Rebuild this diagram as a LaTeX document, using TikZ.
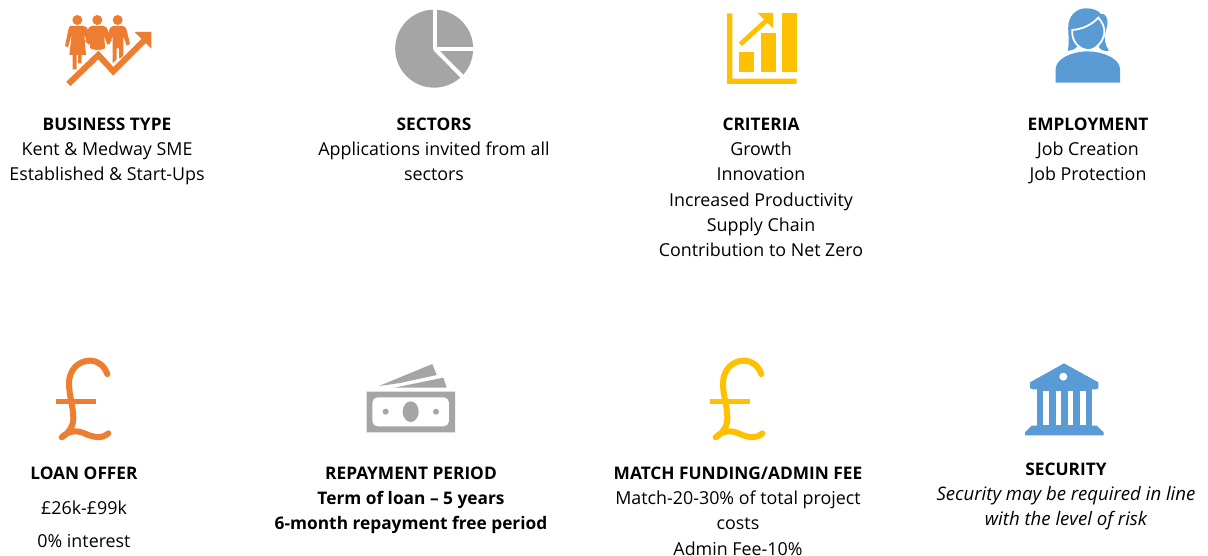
\documentclass[tikz,border=0pt]{standalone}
\usepackage{fontspec}
\setmainfont{Open Sans}
\definecolor{iorange}{HTML}{ED7D31}
\definecolor{igrey}{HTML}{A5A5A5}
\definecolor{iyellow}{HTML}{FFC000}
\definecolor{iblue}{HTML}{5B9BD5}
\newcommand{\hd}[1]{{\fontsize{17.3}{25.2}\selectfont\bfseries #1}}
\newcommand{\emline}[1]{{\fontsize{18.6}{25.4}\selectfont\itshape #1}}
\tikzset{
  blocktext/.style={inner sep=0pt,outer sep=0pt,anchor=north,align=center,text=black,
    font=\fontsize{17.85}{25.2}\selectfont},
  zoomed/.style={scale=1/3},
  poundstroke/.style={line width=6pt,line cap=round,line join=round}
}
\newcommand{\poundicon}[2]{%
  \begin{scope}[shift={(#1,350)},zoomed]
    \draw[#2,poundstroke] (187,72) .. controls (178,48) and (160,32) .. (135,32)
      .. controls (98,32) and (72,62) .. (72,100)
      .. controls (72,135) and (85,170) .. (85,205)
      .. controls (85,230) and (70,250) .. (50,262)
      .. controls (70,242) and (95,240) .. (118,250)
      .. controls (145,262) and (170,268) .. (190,250);
    \draw[#2,line width=5.6pt] (32,155) -- (152,155);
  \end{scope}}
\begin{document}
\begin{tikzpicture}[x=1pt,y=-1pt]
\useasboundingbox (0,0) rectangle (1208,556);
\fill[white] (0,0) rectangle (1208,556);

% people and rising arrow
\begin{scope}[shift={(50,0)},zoomed,iorange]
  \fill (82,60) circle (15);
  \fill (142,60) circle (15);
  \fill (203,60) circle (15);
  % left woman
  \fill (62,78) -- (100,78) .. controls (108,78) and (112,83) .. (115,92)
     -- (126,128) -- (115,134) -- (103,104) -- (108,165) -- (95,165) -- (95,190) -- (84,190) -- (84,165)
     -- (80,165) -- (80,208) -- (68,208) -- (68,165) -- (58,165) -- (65,104) -- (54,142) -- (45,138)
     -- (55,90) .. controls (56,83) and (58,78) .. (62,78) -- cycle;
  % middle woman
  \fill (125,78) -- (160,78) .. controls (167,78) and (172,83) .. (174,92)
     -- (185,122) -- (172,134) -- (163,108) -- (165,145) -- (145,152) -- (120,145) -- (122,108) -- (116,132)
     -- (106,125) -- (113,90) .. controls (116,83) and (120,78) .. (125,78) -- cycle;
  % right man
  \fill (190,78) -- (218,78) .. controls (225,78) and (228,83) .. (230,90)
     -- (240,132) -- (230,137) -- (220,108) -- (220,175) -- (207,175) -- (207,145) -- (200,145)
     -- (200,178) -- (188,190) -- (188,108) -- (178,134) -- (170,128)
     -- (178,90) .. controls (180,83) and (184,78) .. (190,78) -- cycle;
  % white halo and arrow
  \draw[white,line width=8pt,line join=miter] (55,252) -- (145,165) -- (190,214) -- (280,125);
  \draw[iorange,line width=6pt,line join=miter] (55,252) -- (145,165) -- (190,214) -- (288,116);
  \fill (254,96) -- (304,96) -- (304,146) -- cycle;
\end{scope}

% pie
\begin{scope}[shift={(385,0)},zoomed]
  \fill[igrey] (147.5,146) circle (117);
  \draw[white,line width=4pt] (149,146) -- (149,20);
  \draw[white,line width=4pt] (149,146) -- (275,146);
  \draw[white,line width=4pt] (149,146) -- (245,243);
\end{scope}

% chart
\begin{scope}[shift={(715,0)},zoomed,iyellow]
  \fill (36,40) -- (52,40) -- (52,236) -- (245,236) -- (245,252) -- (36,252) -- cycle;
  \fill (72,155) rectangle (118,215);
  \fill (137,100) rectangle (183,215);
  \fill (200,40) rectangle (245,215);
  \draw[iyellow,line width=4.8pt] (76,133) -- (158,58);
  \fill (128,39) -- (174,39) -- (174,85) -- cycle;
\end{scope}

% woman
\begin{scope}[shift={(1045,0)},zoomed,iblue]
  \fill (68,152) .. controls (75,125) and (68,100) .. (70,75)
     .. controls (74,40) and (100,24) .. (125,25)
     .. controls (145,25) and (160,32) .. (168,42)
     .. controls (180,38) and (190,55) .. (187,72)
     .. controls (184,95) and (176,105) .. (180,125)
     .. controls (182,135) and (187,145) .. (192,152)
     .. controls (175,155) and (165,150) .. (158,135) -- (100,135)
     .. controls (92,148) and (80,152) .. (68,152) -- cycle;
  \fill[white] (98,128) rectangle (162,160);
  \filldraw[draw=white,fill=iblue,line width=1.8pt] (82,90)
     .. controls (110,88) and (140,75) .. (160,53)
     .. controls (170,65) and (180,80) .. (178,100)
     .. controls (174,128) and (150,150) .. (130,150)
     .. controls (105,150) and (78,125) .. (82,90) -- cycle;
  \fill (32,248) -- (225,248) -- (225,205)
     .. controls (222,175) and (175,155) .. (128,154)
     .. controls (80,155) and (35,175) .. (32,205) -- cycle;
\end{scope}

% pound signs
\poundicon{45}{iorange}
\poundicon{699}{iyellow}

% banknotes
\begin{scope}[shift={(355,355)},zoomed,igrey]
  \fill (72,93) -- (232,27) -- (245,60) -- (135,84) -- cycle;
  \fill (118,98) -- (265,68) -- (275,98) -- cycle;
  \fill[even odd rule] (35,110) rectangle (300,232)
     [rounded corners=5pt] (52,127) rectangle (282,214);
  \fill (167,170) ellipse (24 and 31);
  \fill (92,170) circle (9);
  \fill (243,170) circle (9);
\end{scope}

% bank
\begin{scope}[shift={(1015,355)},zoomed,iblue]
  \fill (45,82) -- (147,25) -- (250,82) -- (250,100) -- (240,103) -- (56,103) -- (45,100) -- cycle;
  \fill[white] (145,65) circle (12);
  \fill (65,103) rectangle (232,212);
  \fill[white] (85,107) rectangle (102,210);
  \fill[white] (122,107) rectangle (139,210);
  \fill[white] (158,107) rectangle (175,210);
  \fill[white] (195,107) rectangle (212,210);
  \fill (50,212) -- (245,212) -- (266,232) -- (266,241) -- (30,241) -- (30,232) -- cycle;
\end{scope}

% texts
\node[blocktext] (business) at (107,118) {\hd{BUSINESS TYPE}\\Kent \& Medway SME\\Established \& Start-Ups};
\node[blocktext] (sectors) at (434,118) {\hd{SECTORS}\\Applications invited from all\\sectors};
\node[blocktext] (criteria) at (761,118) {\hd{CRITERIA}\\Growth\\Innovation\\Increased Productivity\\Supply Chain\\Contribution to Net Zero};
\node[blocktext] (employment) at (1088,118) {\hd{EMPLOYMENT}\\Job Creation\\Job Protection};
\node[blocktext] (loan) at (84,467) {\hd{LOAN OFFER}};
\node[blocktext] (loanamount) at (84,501) {£26k-£99k};
\node[blocktext] (loanrate) at (84,534.5) {0\% interest};
\node[blocktext] (repayment) at (411,467) {\hd{REPAYMENT PERIOD}\\\hd{Term of loan – 5 years}\\\hd{6-month repayment free period}};
\node[blocktext] (match) at (738,467) {\hd{MATCH FUNDING/ADMIN FEE}\\Match-20-30\% of total project\\costs\\Admin Fee-10\%};
\node[blocktext] (security) at (1066,463) {\hd{SECURITY}\\\emline{Security may be required in line}\\\emline{with the level of risk}};
\end{tikzpicture}
\end{document}
